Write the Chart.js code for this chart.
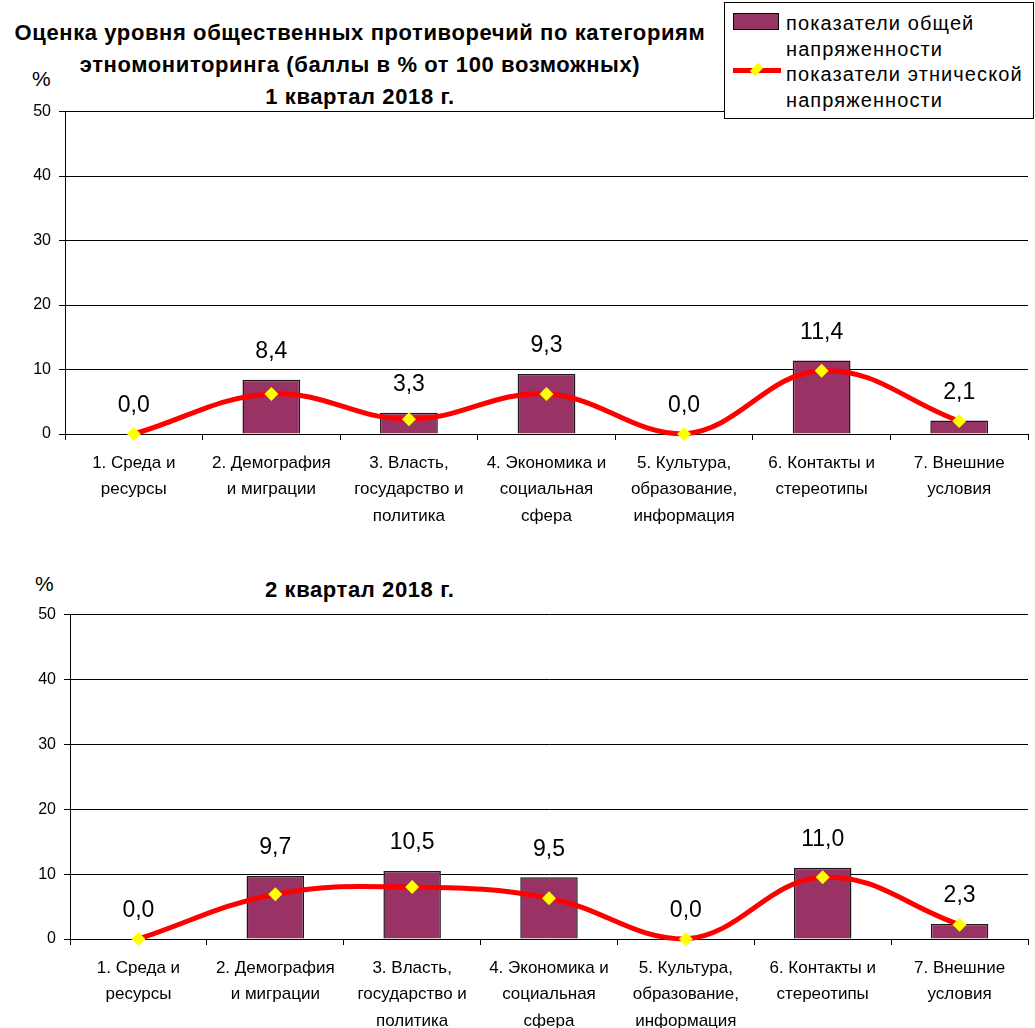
<!DOCTYPE html>
<html>
<head>
<meta charset="utf-8">
<script src="https://cdn.jsdelivr.net/npm/chart.js@4.4.1/dist/chart.umd.min.js"></script>
<style>
    body { margin: 0; background: #fff; font-family: "Liberation Sans", Arial, sans-serif; }
    #page { position: relative; width: 1035px; height: 1028px; overflow: hidden; }
    .box { position: absolute; }
    .title { position: absolute; font-weight: bold; font-size: 22px; letter-spacing: 0.6px; text-align: center; line-height: 32px; color: #000; }
    .pct { position: absolute; font-size: 21px; color: #000; }
    #legend { position: absolute; left: 724px; top: 2px; width: 308px; height: 115px; border: 1px solid #000; background: #fff; z-index: 5; }
    .lgText { position: absolute; left: 61px; font-size: 20px; letter-spacing: 1.1px; line-height: 26px; color: #000; white-space: nowrap; }
    .swatch { position: absolute; left: 8px; top: 10px; width: 46px; height: 17px; background: #993366; border: 1.5px solid #000; box-sizing: border-box; }
    .lgLine { position: absolute; left: 8px; top: 65px; width: 48px; height: 5px; background: #ff0000; }
    .lgDiamond { position: absolute; left: 27px; top: 62px; width: 9px; height: 9px; background: #ffff00; transform: rotate(45deg) scale(0.8, 1.3); }
</style>
</head>
<body>
<div id="page">
    <div class="title" style="left:0; top:17px; width:720px;">Оценка уровня общественных противоречий по категориям<br>этномониторинга (баллы в % от 100 возможных)<br>1 квартал 2018 г.</div>
    <div class="pct" style="left:32px; top:67px;">%</div>
    <div class="box" style="left:0; top:94px;"><canvas id="chart1" width="1035" height="441"></canvas></div>

    <div class="title" style="left:265px; top:574px;">2 квартал 2018 г.</div>
    <div class="pct" style="left:35px; top:572px;">%</div>
    <div class="box" style="left:0; top:597px;"><canvas id="chart2" width="1035" height="431"></canvas></div>

    <div id="legend">
        <div class="swatch"></div>
        <div class="lgText" style="top:7px;">показатели общей</div>
        <div class="lgText" style="top:33px;">напряженности</div>
        <div class="lgLine"></div>
        <div class="lgDiamond"></div>
        <div class="lgText" style="top:58px;">показатели этнической</div>
        <div class="lgText" style="top:84px;">напряженности</div>
    </div>
</div>
<script>
    const categories = [
        ['1. Среда и', 'ресурсы'],
        ['2. Демография', 'и миграции'],
        ['3. Власть,', 'государство и', 'политика'],
        ['4. Экономика и', 'социальная', 'сфера'],
        ['5. Культура,', 'образование,', 'информация'],
        ['6. Контакты и', 'стереотипы'],
        ['7. Внешние', 'условия']
    ];

    const q1Total = [0.0, 8.4, 3.3, 9.3, 0.0, 11.4, 2.1];
    const q1Ethnic = [0.0, 6.2, 2.3, 6.2, 0.0, 9.8, 2.0];

    const q2Total = [0.0, 9.7, 10.5, 9.5, 0.0, 11.0, 2.3];
    const q2Ethnic = [0.0, 6.9, 8.0, 6.3, 0.0, 9.5, 2.2];

    const yTicks = [0, 10, 20, 30, 40, 50];

    const fontFamily = '"Liberation Sans", Arial, sans-serif';

    // value labels above bars, comma as decimal separator
    const barLabels = {
        id: 'barLabels',
        afterDatasetsDraw(chart) {
            const ctx = chart.ctx;
            const meta = chart.getDatasetMeta(0);
            const values = chart.data.datasets[0].data;
            ctx.save();
            ctx.font = '23px ' + fontFamily;
            ctx.fillStyle = '#000';
            ctx.textAlign = 'center';
            ctx.textBaseline = 'middle';
            meta.data.forEach((bar, i) => {
                const txt = values[i].toFixed(1).replace('.', ',');
                ctx.fillText(txt, bar.x, bar.y - 28);
            });
            ctx.restore();
        }
    };

    function makeChart(id, totals, ethnic, leftWidth, topPad, axisHeight) {
        const ctx = document.getElementById(id).getContext('2d');
        return new Chart(ctx, {
            type: 'bar',
            data: {
                labels: categories,
                datasets: [
                    {
                        label: 'показатели общей напряженности',
                        data: totals,
                        backgroundColor: '#993366',
                        borderColor: '#1a1a1a',
                        borderWidth: 1.5,
                        barPercentage: 0.42,
                        categoryPercentage: 1,
                        order: 2
                    },
                    {
                        type: 'line',
                        label: 'показатели этнической напряженности',
                        data: ethnic,
                        borderColor: '#ff0000',
                        borderWidth: 5,
                        tension: 0.4,
                        pointStyle: 'rectRot',
                        pointRadius: 7,
                        pointBackgroundColor: '#ffff00',
                        pointBorderColor: '#ffff00',
                        pointBorderWidth: 0,
                        clip: false,
                        order: 1
                    }
                ]
            },
            options: {
                responsive: false,
                animation: false,
                devicePixelRatio: 1,
                layout: { padding: { top: topPad, right: 2, left: 0, bottom: 0 } },
                plugins: {
                    legend: { display: false },
                    title: { display: false },
                    tooltip: { enabled: false }
                },
                scales: {
                    x: {
                        grid: {
                            offset: true,
                            drawOnChartArea: false,
                            color: '#000',
                            tickLength: 6
                        },
                        border: { color: '#000' },
                        ticks: {
                            color: '#000',
                            font: { family: fontFamily, size: 17, lineHeight: 1.55 },
                            maxRotation: 0,
                            autoSkip: false,
                            padding: 10
                        },
                        afterFit(scale) { scale.height = axisHeight; }
                    },
                    y: {
                        min: 0,
                        max: 50,
                        afterBuildTicks(scale) {
                            scale.ticks = yTicks.map(v => ({ value: v }));
                        },
                        grid: { color: '#000', tickLength: 6 },
                        border: { color: '#000' },
                        ticks: {
                            color: '#000',
                            font: { family: fontFamily, size: 16 },
                            padding: 8
                        },
                        afterFit(scale) { scale.width = leftWidth; }
                    }
                }
            },
            plugins: [barLabels]
        });
    }

    makeChart('chart1', q1Total, q1Ethnic, 65, 4, 101);
    makeChart('chart2', q2Total, q2Ethnic, 70, 4, 89);
</script>
</body>
</html>
